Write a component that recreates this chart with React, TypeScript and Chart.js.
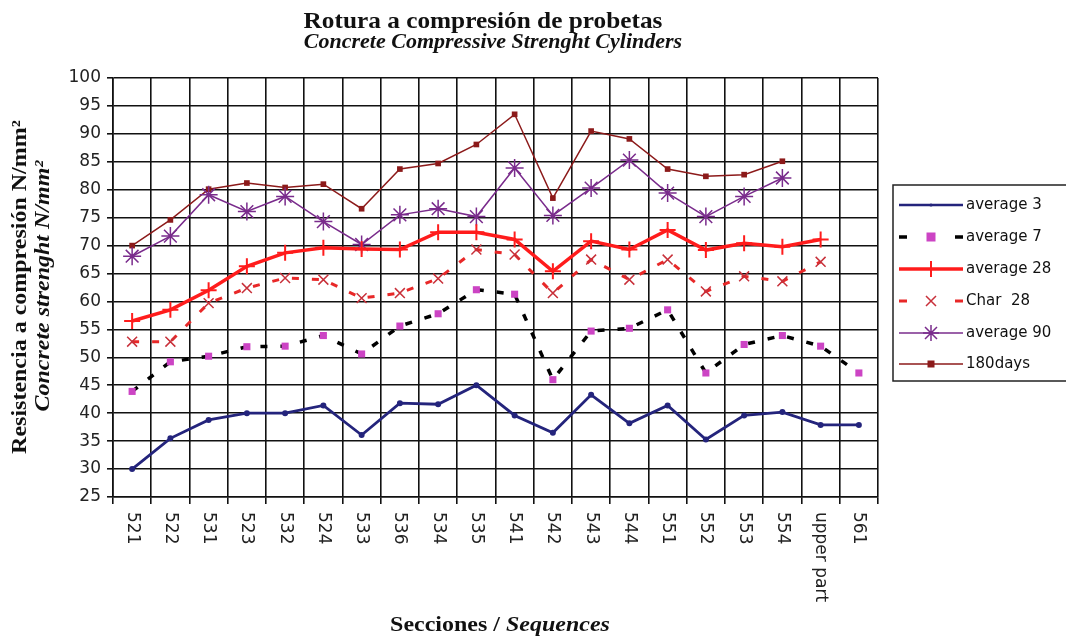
import React, { useEffect, useRef } from "react";
import { Chart, registerables } from "chart.js";

Chart.register(...registerables);

const categories = ["521", "522", "531", "523", "532", "524", "533", "536", "534", "535", "541", "542", "543", "544", "551", "552", "553", "554", "upper part", "561"];

const average3 = [30, 35.5, 38.8, 40, 40, 41.4, 36.1, 41.8, 41.6, 45, 39.6, 36.5, 43.3, 38.2, 41.4, 35.3, 39.6, 40.2, 37.9, 37.9];
const average7 = [43.9, 49.2, 50.2, 51.9, 52, 53.9, 50.6, 55.6, 57.8, 62.1, 61.3, 46, 54.7, 55.2, 58.5, 47.2, 52.3, 53.9, 52, 47.2];
const average28 = [56.5, 58.5, 62, 66.3, 68.7, 69.6, 69.4, 69.3, 72.4, 72.4, 71.1, 65.4, 70.8, 69.3, 72.8, 69.2, 70.4, 69.8, 71.1, null];
const char28 = [52.8, 52.8, 59.7, 62.4, 64.2, 63.9, 60.6, 61.5, 64.1, 69.3, 68.4, 61.5, 67.5, 63.9, 67.5, 61.8, 64.5, 63.6, 67.1, null];
const average90 = [68.1, 71.7, 79.1, 76.1, 78.8, 74.3, 70.2, 75.5, 76.6, 75.2, 83.9, 75.4, 80.3, 85.3, 79.4, 75.2, 78.8, 82.1, null, null];
const days180 = [70, 74.6, 80.1, 81.2, 80.4, 81, 76.6, 83.7, 84.7, 88.1, 93.5, 78.5, 90.5, 89.1, 83.7, 82.4, 82.7, 85.1, null, null];

const seriesNames = ["average 3", "average 7", "average 28", "Char  28", "average 90", "180days"];

const yMin = 25;
const yMax = 100;
const yStep = 5;

const titleLine1 = "Rotura a compresión de probetas";
const titleLine2 = "Concrete Compressive Strenght Cylinders";
const yTitle1 = "Resistencia a compresión N/mm²";
const yTitle2 = "Concrete strenght N/mm²";
const xTitleA = "Secciones / ";
const xTitleB = "Sequences";

const C_NAVY = "#24247c";
const C_MAG = "#cc44c4";
const C_RED = "#ff1c1c";
const C_CHARX = "#c8303a";
const C_CHARL = "#e82828";
const C_PURPLE = "#7a2c8c";
const C_DARKRED = "#8c1a1a";

const SERIF_B = 'bold 22px "Liberation Serif"';
const SERIF_BI = 'italic bold 22px "Liberation Serif"';
const TITLE1_FONT = 'bold 23px "Liberation Serif"';
const TITLE2_FONT = 'italic bold 20px "Liberation Serif"';
const STRETCH = 1.09;

function stretchedText(ctx: CanvasRenderingContext2D, text: string, x: number, y: number, font: string, rot: number, align: CanvasTextAlign, sx: number = STRETCH) {
  ctx.save();
  ctx.translate(x, y);
  ctx.rotate(rot);
  ctx.scale(sx, 1);
  ctx.font = font;
  ctx.textAlign = align;
  ctx.textBaseline = "middle";
  ctx.fillText(text, 0, 0);
  ctx.restore();
}

function drawMarker(ctx: CanvasRenderingContext2D, kind: string, x: number, y: number) {
  ctx.save();
  ctx.setLineDash([]);
  if (kind === "dot") {
    ctx.fillStyle = C_NAVY;
    ctx.beginPath();
    ctx.arc(x, y, 1.6, 0, Math.PI * 2);
    ctx.fill();
  } else if (kind === "square") {
    ctx.fillStyle = C_MAG;
    ctx.fillRect(x - 4.5, y - 4.5, 9, 9);
  } else if (kind === "plus") {
    ctx.strokeStyle = C_RED;
    ctx.lineWidth = 2;
    ctx.beginPath();
    ctx.moveTo(x - 7, y);
    ctx.lineTo(x + 7, y);
    ctx.moveTo(x, y - 8);
    ctx.lineTo(x, y + 8);
    ctx.stroke();
  } else if (kind === "x") {
    ctx.strokeStyle = C_CHARX;
    ctx.lineWidth = 1.5;
    ctx.beginPath();
    ctx.moveTo(x - 5, y - 5);
    ctx.lineTo(x + 5, y + 5);
    ctx.moveTo(x + 5, y - 5);
    ctx.lineTo(x - 5, y + 5);
    ctx.stroke();
  } else if (kind === "star") {
    ctx.strokeStyle = C_PURPLE;
    ctx.lineWidth = 1.5;
    ctx.beginPath();
    ctx.moveTo(x - 8, y);
    ctx.lineTo(x + 8, y);
    ctx.moveTo(x, y - 8);
    ctx.lineTo(x, y + 8);
    ctx.moveTo(x - 6, y - 6);
    ctx.lineTo(x + 6, y + 6);
    ctx.moveTo(x + 6, y - 6);
    ctx.lineTo(x - 6, y + 6);
    ctx.stroke();
  } else if (kind === "rect") {
    ctx.fillStyle = C_DARKRED;
    ctx.fillRect(x - 3.5, y - 3.5, 7, 7);
  }
  ctx.restore();
}

const decorPlugin = {
  id: "decor",
  afterDraw(chart: any) {
    const ctx: CanvasRenderingContext2D = chart.ctx;
    const xScale = chart.scales.x;
    ctx.save();
    ctx.fillStyle = "#111";

    // Titles
    stretchedText(ctx, titleLine1, 483, 22, TITLE1_FONT, 0, "center", 1.1);
    stretchedText(ctx, titleLine2, 493, 43, TITLE2_FONT, 0, "center", 1.1);

    // Y axis titles
    stretchedText(ctx, yTitle1, 20, 287, SERIF_B, -Math.PI / 2, "center");
    stretchedText(ctx, yTitle2, 43, 286, SERIF_BI, -Math.PI / 2, "center");

    // X axis title
    ctx.font = SERIF_B;
    const wA = ctx.measureText(xTitleA).width * STRETCH;
    ctx.font = SERIF_BI;
    const wB = ctx.measureText(xTitleB).width * STRETCH;
    const startX = 500 - (wA + wB) / 2;
    stretchedText(ctx, xTitleA, startX, 625, SERIF_B, 0, "left");
    stretchedText(ctx, xTitleB, startX + wA, 625, SERIF_BI, 0, "left");

    // X tick labels (rotated clockwise)
    ctx.font = '17px "DejaVu Sans"';
    ctx.fillStyle = "#222";
    categories.forEach((c, i) => {
      const px = xScale.getPixelForValue(i);
      ctx.save();
      ctx.translate(px, 512);
      ctx.rotate(Math.PI / 2);
      ctx.textAlign = "left";
      ctx.textBaseline = "middle";
      ctx.fillText(c, 0, 0);
      ctx.restore();
    });

    // Legend
    const bx = 893, by = 185, bw = 180, bh = 196;
    ctx.fillStyle = "#fff";
    ctx.fillRect(bx, by, bw, bh);
    ctx.strokeStyle = "#222";
    ctx.lineWidth = 1.5;
    ctx.strokeRect(bx, by, bw, bh);
    const rows = [205, 237, 269, 301, 333, 364];
    const x0 = 899, x1 = 963, xm = 931;
    const kinds = ["dot", "square", "plus", "x", "star", "rect"];
    rows.forEach((ry, i) => {
      ctx.save();
      if (i === 0) {
        ctx.strokeStyle = C_NAVY; ctx.lineWidth = 2.5;
        ctx.beginPath(); ctx.moveTo(x0, ry); ctx.lineTo(x1, ry); ctx.stroke();
      } else if (i === 1 || i === 3) {
        ctx.strokeStyle = i === 1 ? "#000" : C_CHARL; ctx.lineWidth = i === 1 ? 3.5 : 3;
        ctx.beginPath(); ctx.moveTo(x0, ry); ctx.lineTo(x0 + 8, ry);
        ctx.moveTo(x1 - 8, ry); ctx.lineTo(x1, ry); ctx.stroke();
      } else if (i === 2) {
        ctx.strokeStyle = C_RED; ctx.lineWidth = 3.5;
        ctx.beginPath(); ctx.moveTo(x0, ry); ctx.lineTo(x1, ry); ctx.stroke();
      } else if (i === 4) {
        ctx.strokeStyle = C_PURPLE; ctx.lineWidth = 1.5;
        ctx.beginPath(); ctx.moveTo(x0, ry); ctx.lineTo(x1, ry); ctx.stroke();
      } else {
        ctx.strokeStyle = C_DARKRED; ctx.lineWidth = 1.5;
        ctx.beginPath(); ctx.moveTo(x0, ry); ctx.lineTo(x1, ry); ctx.stroke();
      }
      ctx.restore();
      drawMarker(ctx, kinds[i], xm, ry);
      ctx.fillStyle = "#111";
      ctx.font = '15px "DejaVu Sans"';
      ctx.textAlign = "left";
      ctx.textBaseline = "middle";
      ctx.fillText(seriesNames[i], 966, ry);
    });
    ctx.restore();
  },
};

export default function App() {
  const ref = useRef<HTMLCanvasElement>(null);
  useEffect(() => {
    const canvas = ref.current!;
    const chart = new Chart(canvas, {
      type: "line",
      data: {
        labels: categories,
        datasets: [
          {
            label: seriesNames[0], data: average3, borderColor: C_NAVY, borderWidth: 2.8,
            pointStyle: "circle", pointRadius: 1.6, pointBackgroundColor: C_NAVY, pointBorderColor: C_NAVY, tension: 0,
          },
          {
            label: seriesNames[1], data: average7, borderColor: "#000", borderWidth: 3.5, borderDash: [7, 13],
            pointStyle: "rect", pointRadius: 5, pointBackgroundColor: C_MAG, pointBorderColor: C_MAG, pointBorderWidth: 0,
          },
          {
            label: seriesNames[2], data: average28, borderColor: C_RED, borderWidth: 3.5,
            pointStyle: "cross", pointRadius: 8, pointBorderColor: C_RED, pointBorderWidth: 2,
          },
          {
            label: seriesNames[3], data: char28, borderColor: C_CHARL, borderWidth: 3, borderDash: [7, 13],
            pointStyle: "crossRot", pointRadius: 7, pointBorderColor: C_CHARX, pointBorderWidth: 1.5,
          },
          {
            label: seriesNames[4], data: average90, borderColor: C_PURPLE, borderWidth: 1.5,
            pointStyle: "star", pointRadius: 9, pointBorderColor: C_PURPLE, pointBorderWidth: 1.5,
          },
          {
            label: seriesNames[5], data: days180, borderColor: C_DARKRED, borderWidth: 1.5,
            pointStyle: "rect", pointRadius: 4, pointBackgroundColor: C_DARKRED, pointBorderColor: C_DARKRED, pointBorderWidth: 0,
          },
        ],
      },
      options: {
        responsive: false,
        animation: false,
        devicePixelRatio: 1,
        layout: { padding: { top: 78, right: 188, left: 0, bottom: 0 } },
        plugins: { legend: { display: false }, title: { display: false }, tooltip: { enabled: false } },
        scales: {
          x: {
            type: "category",
            offset: true,
            grid: { color: "#111", lineWidth: 1.6, tickLength: 7, offset: true },
            border: { color: "#111", width: 1.6 },
            ticks: { display: false },
            afterFit: (s: any) => { s.height = 140; },
          },
          y: {
            min: yMin,
            max: yMax,
            grid: { color: "#111", lineWidth: 1.6, tickLength: 6 },
            border: { color: "#111", width: 1.6 },
            ticks: { stepSize: yStep, color: "#222", font: { family: "DejaVu Sans", size: 17 }, padding: 6 },
            afterFit: (s: any) => { s.width = 113; },
          },
        },
      },
      plugins: [decorPlugin],
    } as any);
    return () => chart.destroy();
  }, []);
  return (
    <div style={{ position: "absolute", left: 0, top: 0, width: 1066, height: 637, overflow: "hidden", background: "#fff" }}>
      <canvas ref={ref} width={1066} height={637} style={{ display: "block", width: 1066, height: 637 }} />
    </div>
  );
}
